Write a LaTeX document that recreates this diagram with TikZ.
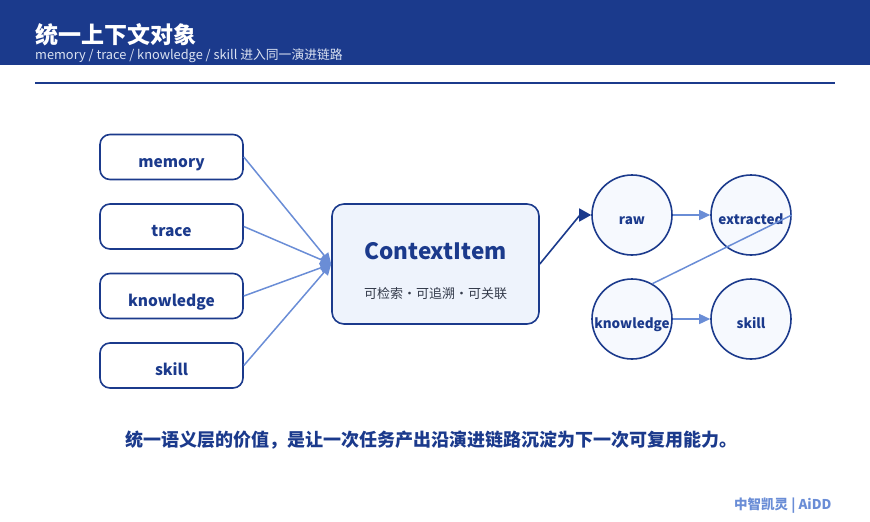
\documentclass[tikz,border=0pt]{standalone}
\usepackage{fontspec}
\setmainfont{Noto Sans CJK SC}
\usetikzlibrary{arrows.meta}
\definecolor{navy}{HTML}{1B3A8C}
\definecolor{lineblue}{HTML}{6A8DD6}
\definecolor{boxfill}{HTML}{EEF3FC}
\definecolor{circfill}{HTML}{F6F9FE}
\definecolor{subgray}{HTML}{333A4A}
\definecolor{subwhite}{HTML}{DCE3F2}
\tikzset{
  srcbox/.style={draw=navy, line width=1.6pt, rounded corners=10pt, fill=white, minimum width=143pt, minimum height=45pt},
  srclabel/.style={text=navy, anchor=base, inner sep=0pt, font=\bfseries\fontsize{15.5}{18}\selectfont},
  circ/.style={circle, draw=navy, line width=1.6pt, fill=circfill, minimum size=80pt, inner sep=0pt},
  circlabel/.style={text=navy, anchor=base, inner sep=0pt, font=\bfseries\fontsize{13.5}{16}\selectfont},
  flow/.style={draw=lineblue, line width=1.5pt},
  flowarrow/.style={flow, -{Triangle[length=11pt,width=10pt]}},
}
\begin{document}
\begin{tikzpicture}[x=1pt,y=-1pt]
\useasboundingbox (0,0) rectangle (870,522);
% header
\fill[navy] (0,0) rectangle (870,65);
\node[anchor=base west, text=white, font=\bfseries\fontsize{23}{25}\selectfont, inner sep=0pt] (title) at (35,43) {统一上下文对象};
\node[anchor=base west, text=subwhite, font=\fontsize{12.8}{14}\selectfont, inner sep=0pt] (subtitle) at (35,59) {memory / trace / knowledge / skill 进入同一演进链路};
\draw[navy, line width=1.5pt] (35,83) coordinate (l1) -- (835,83) coordinate (l2);
% left boxes
\node[srcbox] (mem) at (171.5,157) {};
\node[srclabel] at (171.5,167) {memory};
\node[srcbox] (tra) at (171.5,226.5) {};
\node[srclabel] at (171.5,236.5) {trace};
\node[srcbox] (kno) at (171.5,296) {};
\node[srclabel] at (171.5,306) {knowledge};
\node[srcbox] (ski) at (171.5,365.5) {};
\node[srclabel] at (171.5,375.5) {skill};
% center box
\node[draw=navy, line width=1.6pt, rounded corners=12pt, fill=boxfill, minimum width=207pt, minimum height=120pt] (ctx) at (435.5,264) {};
\node[text=navy, font=\bfseries\fontsize{22.5}{26}\selectfont] (ctxt) at (435.5,251) {ContextItem};
\node[text=subgray, font=\fontsize{13}{15}\selectfont] (ctxs) at (435.5,294) {可检索·可追溯·可关联};
% arrows into ctx
\coordinate (in) at (ctx.west);
\draw[flowarrow] (mem.east) -- (in);
\draw[flowarrow] (tra.east) -- (in);
\draw[flowarrow] (kno.east) -- (in);
\draw[flowarrow] (ski.east) -- (in);
% circles
\node[circ] (raw) at (632,215) {};
\node[circ] (ext) at (751,215) {};
\node[circ] (kn2) at (632,319) {};
\node[circ] (sk2) at (751,319) {};
\node[circlabel] at (632,224) {raw};
\node[circlabel] at (751,224) {extracted};
\node[circlabel] at (632,328) {knowledge};
\node[circlabel] at (751,328) {skill};
\coordinate (bend) at (580,215);
\draw[navy, line width=1.6pt, -{Triangle[length=12pt,width=13pt]}] (ctx.east) -- (bend) -- (raw.west);
\draw[flowarrow] (raw.east) -- (ext.west);
\draw[flowarrow] (kn2.east) -- (sk2.west);
\draw[flow] (kn2.60) -- (ext.east);
% bottom text
\node[text=navy, font=\bfseries\fontsize{18}{20}\selectfont] (msg) at (431,440) {统一语义层的价值，是让一次任务产出沿演进链路沉淀为下一次可复用能力。};
\node[anchor=east, text=lineblue, font=\bfseries\fontsize{13.5}{15}\selectfont] (foot) at (835,506) {中智凯灵 | AiDD};
\end{tikzpicture}
\end{document}
